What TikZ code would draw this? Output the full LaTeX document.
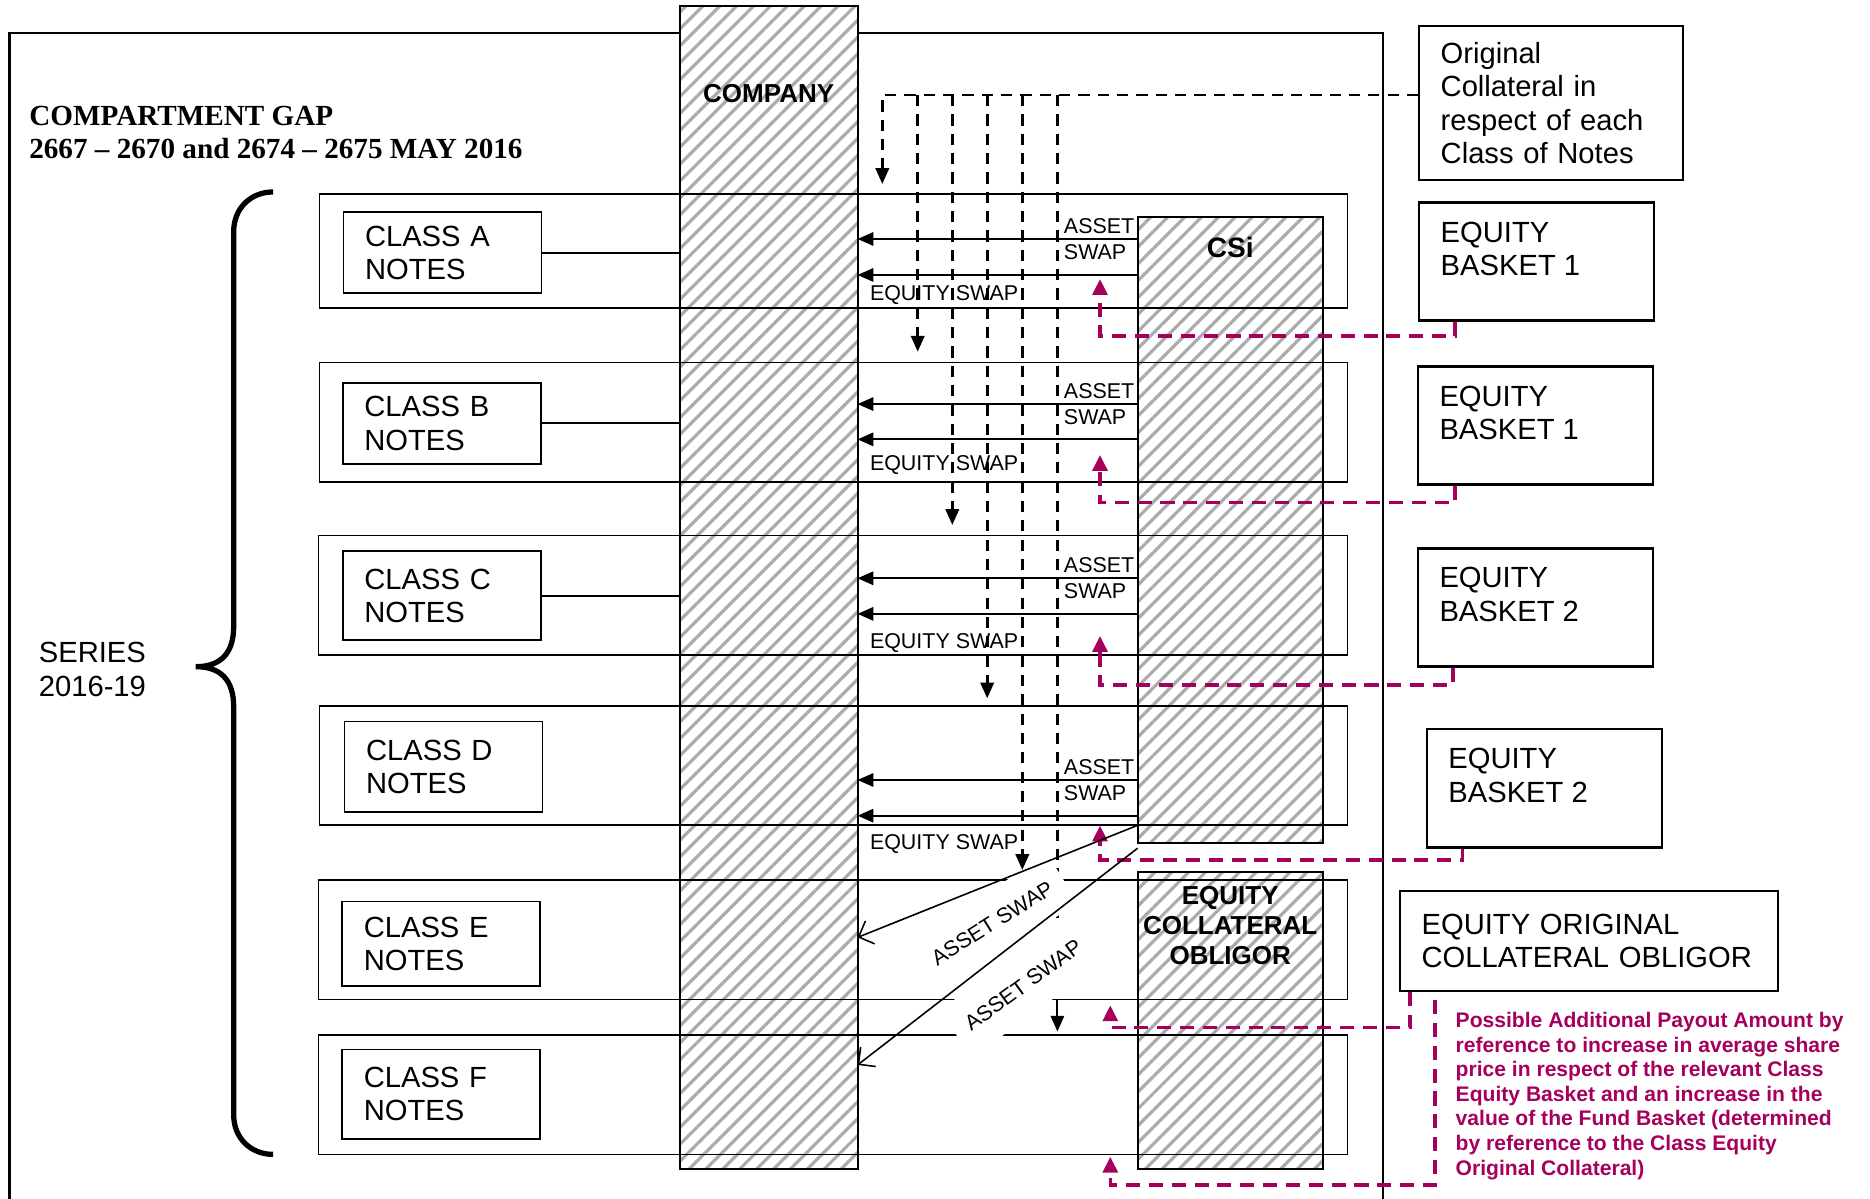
\documentclass[tikz,border=0pt]{standalone}
\usepackage{fontspec}
\setmainfont{Liberation Sans}
\newfontfamily\titlefont{Liberation Serif}
\usetikzlibrary{arrows.meta,positioning,patterns.meta}
\definecolor{payout}{RGB}{166,0,93}
\newcommand{\bsk}[1]{\parbox[t][0.8cm][t]{1.92cm}{#1}}

\begin{document}
\begin{tikzpicture}[>={Triangle[length=4.5pt,width=3.8pt]},font=\fontsize{8.3}{9.5}\selectfont,
  rowline/.style={line width=0.5pt},
  hatchcol/.style={draw,line width=0.6pt,preaction={fill=white},
    pattern={Lines[angle=45,distance=3.4pt,line width=0.9pt]},pattern color=black!33,
    inner sep=0pt,outer sep=0pt},
  coltext/.style={font=\bfseries\fontsize{7.4}{8.5}\selectfont,inner sep=0pt,align=center},
  classbox/.style={draw,line width=0.5pt,align=left,text width=1.55cm,inner xsep=0.215cm},
  basket/.style={draw,line width=0.7pt,inner xsep=0.215cm,inner ysep=0.19cm,
    minimum width=2.349cm,minimum height=1.181cm},
  sidebox/.style={draw,line width=0.6pt,align=left,inner xsep=0.215cm},
  arr/.style={->,line width=0.6pt},
  feed/.style={->,line width=0.75pt,dash pattern=on 3.2pt off 2.3pt},
  pay/.style={-{Triangle[length=4.5pt,width=4.2pt]},payout,line width=1pt,dash pattern=on 4pt off 2.5pt},
  swapdiag/.style={-{Straight Barb[length=3.5pt,width=7pt]},line width=0.45pt},
  swaplbl/.style={anchor=east,align=left,inner xsep=0.7pt,inner ysep=0pt,font=\fontsize{6.1}{7.3}\selectfont},
  eqlbl/.style={anchor=west,inner sep=0pt,xshift=0.114cm,font=\fontsize{6.1}{7.3}\selectfont},
  diaglbl/.style={fill=white,inner xsep=4pt,inner ysep=6pt,font=\fontsize{6.1}{7.3}\selectfont}]
\useasboundingbox (0,0) rectangle (18.70,11.99);

% compartment frame
\draw[line width=0.6pt] (0.095,0) -- (0.095,11.656) -- (13.834,11.656) -- (13.834,0);

% hatched columns
\node[hatchcol,minimum width=1.777cm,minimum height=11.627cm] (company) at (7.687,6.117) {};
\node[hatchcol,minimum width=1.849cm,minimum height=6.261cm] (csi) at (12.302,6.689) {};
\node[hatchcol,minimum width=1.849cm,minimum height=2.969cm] (eco) at (12.302,1.788) {};
\node[coltext,below=0.775cm of company.north] {COMPANY};
\node[coltext,font=\bfseries\fontsize{8}{9}\selectfont,below=0.195cm of csi.north] {CSi};
\node[coltext,below=0.14cm of eco.north] {EQUITY\\COLLATERAL\\OBLIGOR};

% class rows
\draw[rowline] (3.196,10.046) rectangle (13.476,8.913);
\draw[rowline] (3.196,8.365) rectangle (13.476,7.172);
\draw[rowline] (3.184,6.635) rectangle (13.476,5.443);
\draw[rowline] (3.196,4.930) rectangle (13.476,3.737);
\draw[rowline] (3.184,3.189) rectangle (13.476,1.996);
\draw[rowline] (3.184,1.638) rectangle (13.476,0.446);

\node[classbox,minimum height=0.81cm] (clsa) at (4.425,9.462) {CLASS A\\NOTES};
\node[classbox,minimum height=0.81cm] (clsb) at (4.419,7.756) {CLASS B\\NOTES};
\node[classbox,minimum height=0.894cm] (clsc) at (4.419,6.033) {CLASS C\\NOTES};
\node[classbox,minimum height=0.906cm] (clsd) at (4.436,4.322) {CLASS D\\NOTES};
\node[classbox,minimum height=0.847cm] (clse) at (4.413,2.551) {CLASS E\\NOTES};
\node[classbox,minimum height=0.894cm] (clsf) at (4.413,1.048) {CLASS F\\NOTES};
\draw[rowline] (clsa.east) -- (clsa.east -| company.west);
\draw[rowline] (clsb.east) -- (clsb.east -| company.west);
\draw[rowline] (clsc.east) -- (clsc.east -| company.west);

% boxes on the right
\node[sidebox,text width=2.206cm,minimum height=1.539cm] (orig) at (15.510,10.959)
  {Original\\Collateral in\\respect of each\\Class of Notes};
\node[basket] (eba) at (15.367,9.373) {\bsk{EQUITY\\BASKET 1}};
\node[basket] (ebb) at (15.355,7.733) {\bsk{EQUITY\\BASKET 1}};
\node[basket] (ebc) at (15.355,5.914) {\bsk{EQUITY\\BASKET 2}};
\node[basket] (ebd) at (15.444,4.107) {\bsk{EQUITY\\BASKET 2}};
\node[sidebox,text width=3.351cm,minimum height=1.001cm] (eoc) at (15.892,2.580)
  {EQUITY ORIGINAL\\COLLATERAL OBLIGOR};

% original collateral feeds
\draw[feed] (orig.west |- 0,11.04) -| (8.823,10.150);
\draw[feed] (9.177,11.04) -- (9.177,8.473);
\draw[feed] (9.523,11.04) -- (9.523,6.740);
\draw[feed] (9.872,11.04) -- (9.872,5.006);
\draw[feed] (10.223,11.04) -- (10.223,3.290);
\draw[feed,-] (10.574,11.04) -- (10.574,1.996);
\draw[arr] (10.574,1.996) -- (10.574,1.674);

% swaps from CSi to the company
\draw[arr] (csi.west |- 0,9.600) node[swaplbl] {ASSET\\SWAP} -- (company.east |- 0,9.600);
\draw[arr] (csi.west |- 0,9.240) -- (company.east |- 0,9.240) node[eqlbl,yshift=-0.2cm] {EQUITY SWAP};
\draw[arr] (csi.west |- 0,7.949) node[swaplbl] {ASSET\\SWAP} -- (company.east |- 0,7.949);
\draw[arr] (csi.west |- 0,7.596) -- (company.east |- 0,7.596) node[eqlbl,yshift=-0.256cm] {EQUITY SWAP};
\draw[arr] (csi.west |- 0,6.207) node[swaplbl] {ASSET\\SWAP} -- (company.east |- 0,6.207);
\draw[arr] (csi.west |- 0,5.851) -- (company.east |- 0,5.851) node[eqlbl,yshift=-0.294cm] {EQUITY SWAP};
\draw[arr] (csi.west |- 0,4.190) node[swaplbl] {ASSET\\SWAP} -- (company.east |- 0,4.190);
\draw[arr] (csi.west |- 0,3.833) -- (company.east |- 0,3.833) node[eqlbl,yshift=-0.283cm] {EQUITY SWAP};

% additional payout
\draw[pay] ([xshift=0.37cm]eba.south west) |- (11.0,8.630) -- (11.0,9.199);
\draw[pay] ([xshift=0.38cm]ebb.south west) |- (11.0,6.963) -- (11.0,7.440);
\draw[pay] ([xshift=0.36cm]ebc.south west) |- (11.0,5.140) -- (11.0,5.630);
\draw[pay] ([xshift=0.37cm]ebd.south west) |- (11.0,3.390) -- (11.0,3.734);
\draw[pay] ([xshift=0.107cm]eoc.south west) |- (11.103,1.713) -- (11.103,1.936);
\draw[pay] ([xshift=0.358cm,yshift=-0.08cm]eoc.south west) |- (11.103,0.140) -- (11.103,0.422);

% asset swaps to class E and F
\node[diaglbl,rotate=32] (aswe) at (9.922,2.759) {ASSET SWAP};
\node[diaglbl,rotate=36] (aswf) at (10.232,2.139) {ASSET SWAP};
\draw[swapdiag] (csi.west |- 0,3.737) -- (company.east |- 0,2.616);
\draw[swapdiag] ([yshift=-0.05cm]csi.south west) -- (company.east |- 0,1.340);

% series brace
\draw[line width=1.5pt] (2.731,10.070) .. controls (2.504,10.070) and (2.337,9.903) .. (2.337,9.676)
  -- (2.337,5.729) .. controls (2.337,5.455) and (2.206,5.323) .. (1.956,5.323)
  .. controls (2.206,5.323) and (2.337,5.192) .. (2.337,4.918)
  -- (2.337,0.839) .. controls (2.337,0.613) and (2.504,0.446) .. (2.731,0.446);
\node[anchor=west,align=left,inner sep=0pt] (series) at (0.382,5.294) {SERIES\\2016-19};

\node[anchor=west,align=left,inner sep=0pt,font=\titlefont\bfseries\fontsize{8.3}{9.5}\selectfont] (title)
  at (0.286,10.666) {COMPARTMENT GAP\\2667 \textendash{} 2670 and 2674 \textendash{} 2675 MAY 2016};

\node[anchor=west,align=left,inner sep=0pt,text=payout,font=\bfseries\fontsize{6}{7}\selectfont] (note)
  at (14.55,1.03) {Possible Additional Payout Amount by\\reference to increase in average share\\
  price in respect of the relevant Class\\Equity Basket and an increase in the\\
  value of the Fund Basket (determined\\by reference to the Class Equity\\Original Collateral)};
\end{tikzpicture}
\end{document}
